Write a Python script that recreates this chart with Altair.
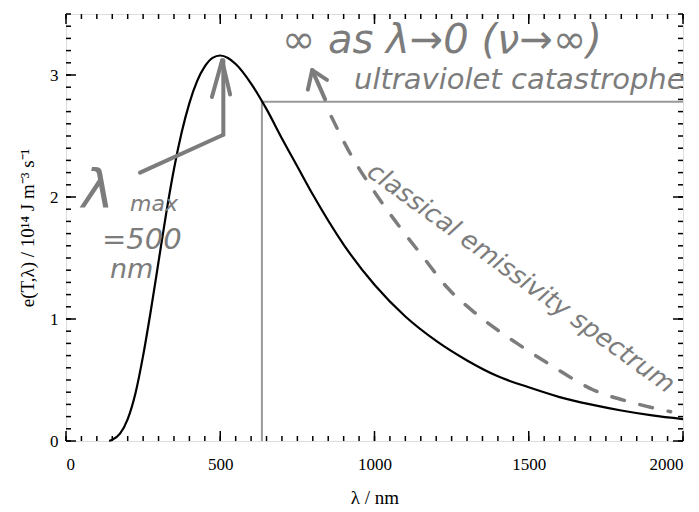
import altair as alt
import pandas as pd

# Planck curve
lam = [140, 150, 175, 200, 225, 250, 275, 300, 325, 350, 375, 400, 425, 450, 475, 500, 525,
       550, 600, 650, 700, 750, 800, 900, 1000, 1100, 1200, 1300, 1400, 1500, 1600, 1700,
       1800, 1900, 2000]
emis = [0.0, 0.01, 0.06, 0.18, 0.39, 0.70, 1.07, 1.47, 1.87, 2.23, 2.53, 2.77, 2.95, 3.07,
        3.14, 3.16, 3.14, 3.09, 2.93, 2.72, 2.48, 2.25, 2.02, 1.61, 1.28, 1.02, 0.82, 0.66,
        0.53, 0.44, 0.36, 0.30, 0.25, 0.21, 0.18]

# hand-drawn classical curve (dashed)
cl_lam = [860, 927, 995, 1083, 1157, 1235, 1326, 1462, 1579, 1708, 1828, 1960]
cl_e = [2.66, 2.33, 2.06, 1.75, 1.51, 1.26, 1.05, 0.80, 0.61, 0.42, 0.32, 0.24]

# grey guide lines
guide_x = [635, 635, 2000]
guide_y = [0.0, 2.78, 2.78]

# hand-drawn arrow segments (x, y, x2, y2)
arr_x = [240, 510, 473, 532, 840, 784, 846]
arr_y = [2.20, 2.51, 2.82, 2.84, 2.80, 2.88, 2.96]
arr_x2 = [510, 510, 506, 506, 798, 798, 798]
arr_y2 = [2.51, 3.12, 3.12, 3.12, 3.04, 3.04, 3.04]

x_major = [0, 500, 1000, 1500, 2000]
y_major = [0, 1, 2, 3]
x_minor = list(range(0, 2001, 50))
y_minor = [i / 10 for i in range(0, 36)]

W, H = 617, 427
GREY = "#7c7c7c"
HAND = "DejaVu Sans"

xs = alt.Scale(domain=[0, 2000], nice=False, zero=False)
ys = alt.Scale(domain=[0, 3.5], nice=False)

curve_df = pd.DataFrame({"lam": lam, "e": emis})
cl_df = pd.DataFrame({"lam": cl_lam, "e": cl_e})
guide_df = pd.DataFrame({"lam": guide_x, "e": guide_y, "o": [0, 1, 2]})
arr_df = pd.DataFrame({"x": arr_x, "y": arr_y, "x2": arr_x2, "y2": arr_y2})

xaxis = alt.Axis(values=x_major, ticks=False, domain=False, grid=False,
                 labelFont="Liberation Serif", labelFontSize=17, labelColor="black",
                 labelPadding=15, title="λ / nm", titleFont="Liberation Serif",
                 titleFontSize=19, titleFontWeight="normal", titleColor="black",
                 titlePadding=16, format="d")
yaxis = alt.Axis(values=y_major, ticks=False, domain=False, grid=False,
                 labelFont="Liberation Serif", labelFontSize=17, labelColor="black",
                 labelPadding=8, title="e(T,λ) / 10¹⁴ J m⁻³ s⁻¹",
                 titleFont="Liberation Serif", titleFontSize=19, titleFontWeight="normal",
                 titleColor="black", titlePadding=12, format="d")

guides = alt.Chart(guide_df).mark_line(color="#999999", strokeWidth=2).encode(
    x=alt.X("lam:Q", scale=xs, axis=xaxis),
    y=alt.Y("e:Q", scale=ys, axis=yaxis),
    order="o:Q",
)

curve = alt.Chart(curve_df).mark_line(color="black", strokeWidth=2.2,
                                      interpolate="monotone").encode(
    x=alt.X("lam:Q", scale=xs), y=alt.Y("e:Q", scale=ys))

classical = alt.Chart(cl_df).mark_line(color=GREY, strokeWidth=3.5, strokeDash=[13, 16],
                                       interpolate="monotone", strokeCap="round").encode(
    x=alt.X("lam:Q", scale=xs), y=alt.Y("e:Q", scale=ys))

arrows = alt.Chart(arr_df).mark_rule(color=GREY, strokeWidth=4, strokeCap="round").encode(
    x=alt.X("x:Q", scale=xs), y=alt.Y("y:Q", scale=ys), x2="x2:Q", y2="y2:Q")

def ticks_x(vals, length):
    d = pd.DataFrame({"v": vals})
    b = alt.Chart(d).mark_rule(color="black", strokeWidth=1.5).encode(
        x=alt.X("v:Q", scale=xs), y=alt.value(H), y2=alt.value(H - length))
    t = alt.Chart(d).mark_rule(color="black", strokeWidth=1.5).encode(
        x=alt.X("v:Q", scale=xs), y=alt.value(0), y2=alt.value(length))
    return [b, t]

def ticks_y(vals, length):
    d = pd.DataFrame({"v": vals})
    l = alt.Chart(d).mark_rule(color="black", strokeWidth=1.5).encode(
        y=alt.Y("v:Q", scale=ys), x=alt.value(0), x2=alt.value(length))
    r = alt.Chart(d).mark_rule(color="black", strokeWidth=1.5).encode(
        y=alt.Y("v:Q", scale=ys), x=alt.value(W), x2=alt.value(W - length))
    return [l, r]

tick_layers = ticks_x(x_major, 10) + ticks_x(x_minor, 5) + ticks_y(y_major, 10) + ticks_y(y_minor, 5)

def note(txt, px, py, size, angle=0, align="left"):
    return alt.Chart(pd.DataFrame({"t": [txt]})).mark_text(
        font=HAND, fontSize=size, color=GREY, align=align, baseline="middle",
        angle=angle, fontStyle="italic").encode(
        x=alt.value(px), y=alt.value(py), text="t:N")

notes = [
    note("∞ as λ→0 (ν→∞)", 216, 27, 40),
    note("ultraviolet catastrophe", 288, 66, 29),
    note("classical emissivity spectrum", 455, 264, 25.5, angle=36, align="center"),
    note("λ", 16, 178, 54),
    note("max", 64, 190, 22),
    note("=500", 36, 226, 29),
    note("nm", 44, 256, 27),
]

chart = alt.layer(guides, curve, classical, arrows, *tick_layers, *notes).properties(
    width=W, height=H,
    autosize=alt.AutoSizeParams(type="none"),
    padding={"left": 58, "top": 6, "right": 8, "bottom": 70},
).configure_view(stroke="black", strokeWidth=2).configure(background="white")

chart.save("out.html", embed_options={"renderer": "svg", "actions": False})
